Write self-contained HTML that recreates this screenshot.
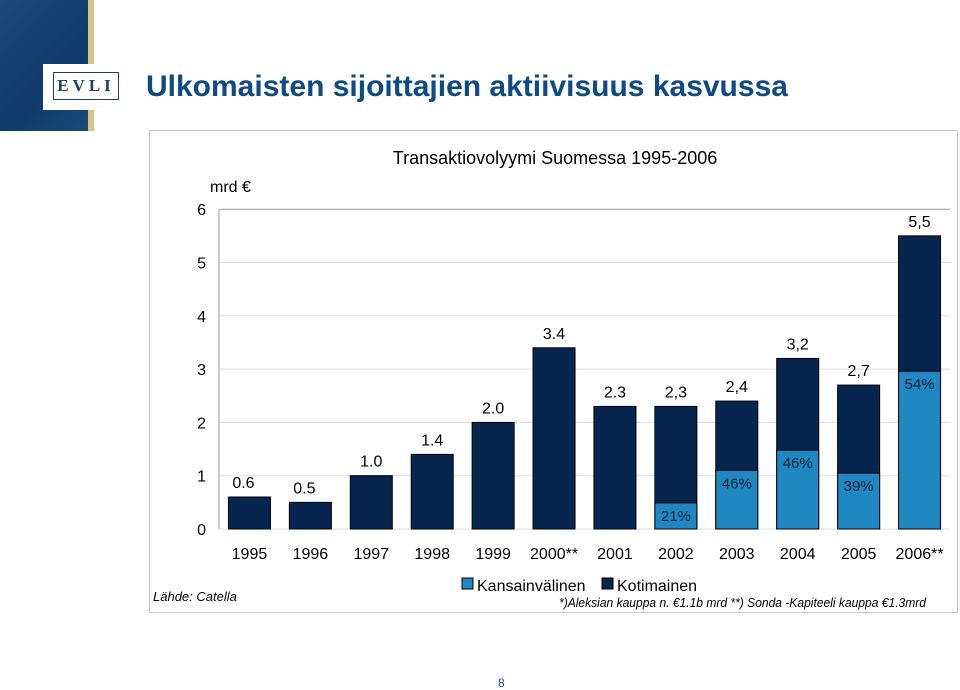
<!DOCTYPE html>
<html><head><meta charset="utf-8"><style>
body{margin:0;width:960px;height:689px;background:#fff;position:relative;overflow:hidden;font-family:"Liberation Sans",sans-serif}
.abs{position:absolute}
</style></head><body>
<div class="abs" style="left:0;top:0;width:88px;height:131px;background:linear-gradient(135deg,#1d4a7a,#0f3a6a 60%,#184a7c)"></div>
<div class="abs" style="left:88px;top:0;width:6px;height:131px;background:#d8c37a"></div>
<div class="abs" style="left:43px;top:64px;width:85px;height:46px;background:#fff"></div>
<div class="abs" style="left:53px;top:72px;width:66px;height:28px;border:1px solid #1c3f6e;box-sizing:border-box;color:#1c3f6e;font-family:'Liberation Serif',serif;font-size:17px;letter-spacing:4px;text-align:center;line-height:26px;font-weight:bold">EVLI</div>
<div class="abs" style="left:146px;top:70px;font-size:30px;font-weight:bold;color:#0e4a86;white-space:nowrap">Ulkomaisten sijoittajien aktiivisuus kasvussa</div>
<div class="abs" style="left:498px;top:676px;font-size:12px;color:#1a4f99">8</div>
<svg class="abs" style="left:0;top:0" width="960" height="689">
<rect x="149.5" y="130.5" width="808" height="482" fill="#fff" stroke="#c8c8c8"/>
<text x="555" y="164" font-size="18" text-anchor="middle" fill="#000">Transaktiovolyymi Suomessa 1995-2006</text>
<text x="210" y="192" font-size="16" fill="#000">mrd €</text>
<g id="grid"></g><g id="bars"></g><g id="labels"></g>
<rect x="462" y="578" width="11" height="11" fill="#1f87c1" stroke="#000" stroke-width="1"/>
<text x="477" y="591" font-size="16">Kansainvälinen</text>
<rect x="602" y="578" width="11" height="11" fill="#062650" stroke="#000"/>
<text x="617" y="591" font-size="16">Kotimainen</text>
<text x="153" y="601" font-size="13" font-style="italic">Lähde: Catella</text>
<text x="559" y="607" font-size="12.5" font-style="italic" textLength="367" lengthAdjust="spacingAndGlyphs">*)Aleksian kauppa n. €1.1b mrd  **) Sonda -Kapiteeli kauppa €1.3mrd</text>
</svg>
<script>
const categories=["1995","1996","1997","1998","1999","2000**","2001","2002","2003","2004","2005","2006**"];
const totals=[0.6,0.5,1.0,1.4,2.0,3.4,2.3,2.3,2.4,3.2,2.7,5.5];
const international=[0,0,0,0,0,0,0,0.49,1.1,1.48,1.05,2.96];
const totalLabels=["0.6","0.5","1.0","1.4","2.0","3.4","2.3","2,3","2,4","3,2","2,7","5,5"];
const pctLabels=["","","","","","","","21%","46%","46%","39%","54%"];
const yTicks=[0,1,2,3,4,5,6];
const NS="http://www.w3.org/2000/svg";
const y0=529,ppu=53.3,xL=219,xR=950,step=(xR-xL)/categories.length,bw=42;
const Y=v=>y0-v*ppu, X=i=>xL+step*(i+0.5);
function mk(tag,attrs,parent,text){const e=document.createElementNS(NS,tag);for(const k in attrs)e.setAttribute(k,attrs[k]);if(text!==undefined)e.textContent=text;document.getElementById(parent).appendChild(e);return e;}
yTicks.forEach(t=>{
 const l=mk('line',{x1:xL,x2:xR,y1:Y(t),y2:Y(t),stroke:t===6?'#999':'#ddd'},'grid');
 
 
 const tx=mk('text',{x:206,y:Y(t)+6,'font-size':16,'text-anchor':'end'},'grid',String(t));
 
 
});
const ax=mk('line',{x1:xL,x2:xL,y1:Y(6),y2:y0,stroke:'#999'},'grid');


categories.forEach((c,i)=>{
 const x=X(i)-bw/2;
 const r=mk('rect',{x:x,y:Y(totals[i]),width:bw,height:totals[i]*ppu,fill:'#062650',stroke:'#000','stroke-width':1},'bars');
 
 
 if(international[i]>0){
  const r2=mk('rect',{x:x,y:Y(international[i]),width:bw,height:international[i]*ppu,fill:'#1f87c1',stroke:'#000','stroke-width':1},'bars');
  
  
  const p=mk('text',{x:X(i),y:Y(international[i])+18,'font-size':15,'text-anchor':'middle',fill:'#0a1f3a'},'labels',pctLabels[i]);
  
  
 }
 const tl=mk('text',{x:X(i)+(i<2?-6:0),y:Y(totals[i])-9,'font-size':16,'text-anchor':'middle'},'labels',totalLabels[i]);
 
 
 const xl=mk('text',{x:X(i),y:559,'font-size':16,'text-anchor':'middle'},'labels',c);
 
 
});
</script>
</body></html>
